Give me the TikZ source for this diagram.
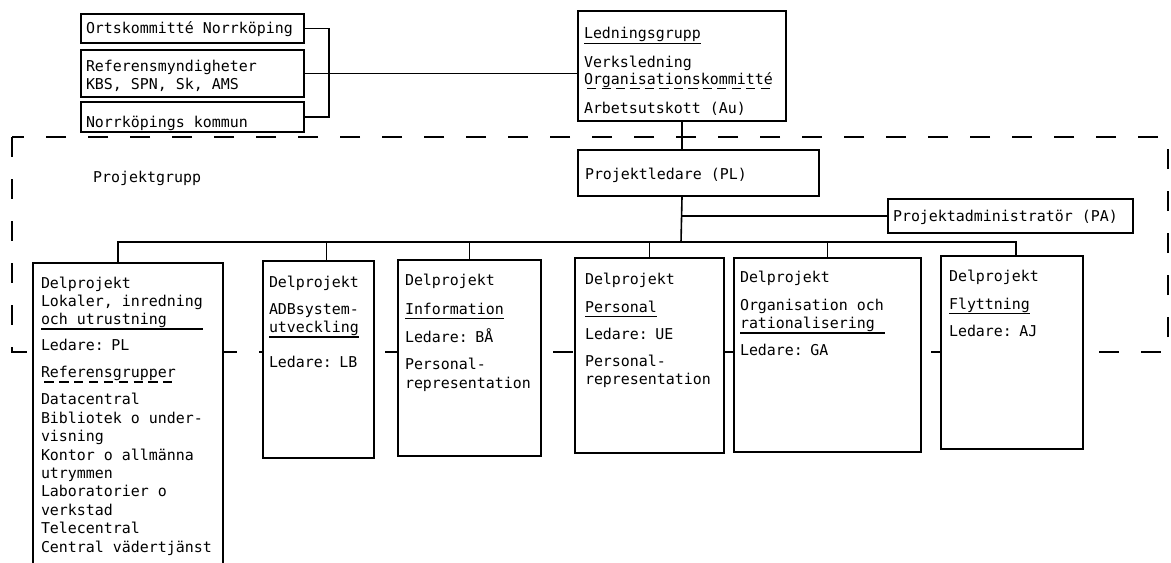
\documentclass[tikz,border=0pt]{standalone}
\usepackage{fontspec}
\newfontfamily\typed{DejaVu Sans Mono}
\newcommand{\boxfont}{\typed\fontsize{7.47pt}{9.2pt}\selectfont}
\newlength{\linedw}
\newcommand{\lined}[2][0pt]{\leavevmode\settowidth{\linedw}{#2}\addtolength{\linedw}{#1}\rlap{\rule[-2.6pt]{\linedw}{0.8pt}}#2}
\newcommand{\dlined}[2][0pt]{\leavevmode\settowidth{\linedw}{#2}\addtolength{\linedw}{#1}\rlap{\hbox to\linedw{\xleaders\hbox{\kern1.1pt\rule[-2.6pt]{4.6pt}{0.8pt}\kern1.1pt}\hfill}}#2}
\tikzset{box/.style={draw,line width=1pt,fill=white,anchor=north west,align=left,inner ysep=0pt,font=\boxfont,execute at begin node={\spaceskip=0.602em\relax}},link/.style={line width=0.8pt},frame/.style={line width=1pt,dash pattern=on 10pt off 11pt}}
\begin{document}
\begin{tikzpicture}[x=0.5pt,y=-0.5pt]
\path[use as bounding box] (0,0) rectangle (1171,562);
\clip (0,0) rectangle (1171,562);
% Projektgrupp frame
\draw[frame] (12,137) rectangle (1168,352);
\node[anchor=base west,font=\boxfont] (grp) at (86,182) {Projektgrupp};
% top level
\node[box,inner xsep=2.5pt,text width=106.5pt,text height=9.5pt,text depth=5pt] (ort) at (80,13) {Ortskommitté Norrköping};
\node[box,inner xsep=2.5pt,text width=106.5pt,text height=10.5pt,text depth=13pt] (ref) at (80,49) {Referensmyndigheter\\KBS, SPN, Sk, AMS};
\node[box,inner xsep=2.5pt,text width=106.5pt,text height=12.5pt,text depth=2.5pt] (kom) at (80,101) {Norrköpings kommun};
\node[box,inner xsep=3pt,text width=98pt,text height=14pt,text depth=41pt] (led) at (577,10) {\lined{Ledningsgrupp}\\[4.8pt]Verksledning\\[-0.7pt]\dlined{Organisationskommitté}\\[5.3pt]Arbetsutskott (Au)};
\node[box,inner xsep=3.5pt,text width=113.5pt,text height=14.5pt,text depth=8.5pt] (pl) at (577,149) {Projektledare (PL)};
\node[box,inner xsep=2.5pt,text width=117.5pt,text height=11pt,text depth=6pt] (pa) at (887,198) {Projektadministratör (PA)};
% delprojekt
\node[box,inner xsep=4pt,text width=87pt,text height=12.5pt,text depth=144pt] (d1) at (32,262) {Delprojekt\\Lokaler, inredning\\\lined[18pt]{och utrustning}\\[3.8pt]Ledare: PL\\[4.3pt]\dlined{Referensgrupper}\\[4.3pt]Datacentral\\Bibliotek o under-\\visning\\Kontor o allmänna\\utrymmen\\Laboratorier o\\verkstad\\Telecentral\\Central vädertjänst};
\node[box,inner xsep=3pt,text width=49.5pt,text height=13pt,text depth=85.5pt] (d2) at (262,260) {Delprojekt\\[4.3pt]ADBsystem-\\\lined{utveckling}\\[8.3pt]Ledare: LB};
\node[box,inner xsep=3.5pt,text width=64.5pt,text height=12.5pt,text depth=85.5pt] (d3) at (397,259) {Delprojekt\\[5.3pt]\lined{Information}\\[3.8pt]Ledare: BÅ\\[4.3pt]Personal-\\representation};
\node[box,inner xsep=5pt,text width=64.5pt,text height=13pt,text depth=84.5pt] (d4) at (574,257) {Delprojekt\\[4.8pt]\lined{Personal}\\[4.3pt]Ledare: UE\\[4.3pt]Personal-\\representation};
\node[box,inner xsep=3pt,text width=87.5pt,text height=12pt,text depth=85pt] (d5) at (733,257) {Delprojekt\\[4.8pt]Organisation och\\\lined[5pt]{rationalisering}\\[4.3pt]Ledare: GA};
\node[box,inner xsep=4pt,text width=63pt,text height=12.5pt,text depth=84pt] (d6) at (940,255) {Delprojekt\\[4.8pt]\lined{Flyttning}\\[4.3pt]Ledare: AJ};
\coordinate (bus) at (681,242);
% connectors
\draw[link] (ort.east) -| ([xshift=12pt]ref.east) |- (kom.east);
\draw[link] (ref.east) -- (ref.east -| led.west);
\draw[link] (led.south) -- (led.south |- pl.north);
\draw[link] (led.south |- pl.south) -- (bus);
\draw[link] (led.south |- pa.west) -- (pa.west);
\draw[link] ([xshift=-5pt]d1.north) |- (bus) -| ([xshift=2pt]d6.north);
\draw[link] ([xshift=4pt]d2.north) -- ([xshift=4pt]d2.north |- bus);
\draw[link] (d3.north) -- (d3.north |- bus);
\draw[link] (d4.north) -- (d4.north |- bus);
\draw[link] (d5.north) -- (d5.north |- bus);
\end{tikzpicture}
\end{document}
